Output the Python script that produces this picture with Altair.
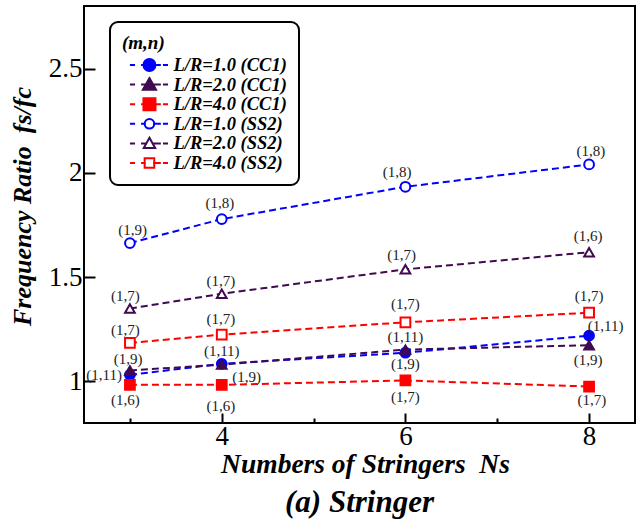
import altair as alt
import pandas as pd

# ---------------- data ----------------
ns = [3, 4, 6, 8]
series_names = ["L/R=1.0 (CC1)", "L/R=2.0 (CC1)", "L/R=4.0 (CC1)",
                "L/R=1.0 (SS2)", "L/R=2.0 (SS2)", "L/R=4.0 (SS2)"]
cc1_lr1 = [1.031, 1.084, 1.137, 1.219]
cc1_lr2 = [1.052, 1.080, 1.152, 1.173]
cc1_lr4 = [0.983, 0.983, 1.004, 0.975]
ss2_lr1 = [1.663, 1.778, 1.933, 2.040]
ss2_lr2 = [1.349, 1.420, 1.537, 1.619]
ss2_lr4 = [1.184, 1.224, 1.283, 1.329]
series_values = [cc1_lr1, cc1_lr2, cc1_lr4, ss2_lr1, ss2_lr2, ss2_lr4]

# mode-number annotations (m,n), placed in data coordinates
label_text = ["(1,9)", "(1,7)", "(1,7)", "(1,9)", "(1,11)", "(1,6)",
              "(1,8)", "(1,7)", "(1,7)", "(1,11)", "(1,9)", "(1,6)",
              "(1,8)", "(1,7)", "(1,7)", "(1,11)", "(1,9)", "(1,7)",
              "(1,8)", "(1,6)", "(1,7)", "(1,11)", "(1,9)", "(1,7)"]
label_x = [3.03, 2.95, 2.95, 2.98, 2.72, 2.95,
           3.98, 3.99, 3.99, 4.0, 4.27, 3.99,
           5.91, 5.96, 6.0, 6.0, 6.0, 6.0,
           8.02, 7.99, 8.0, 8.18, 7.99, 8.03]
label_y = [1.727, 1.409, 1.248, 1.108, 1.031, 0.911,
           1.855, 1.481, 1.301, 1.147, 1.022, 0.883,
           2.005, 1.605, 1.369, 1.214, 1.084, 0.925,
           2.106, 1.698, 1.407, 1.267, 1.104, 0.911]

x_major = [4, 6, 8]
x_minor = [3, 5, 7]
y_ticks = [1, 1.5, 2, 2.5]

# ---------------- styles ----------------
BLUE, PURPLE, RED = "#0000FF", "#400A50", "#FF0000"
series_colors = [BLUE, PURPLE, RED, BLUE, PURPLE, RED]
series_fills = [BLUE, PURPLE, RED, "#FFFFFF", "#FFFFFF", "#FFFFFF"]
chart_shapes = ["circle", "triangle-up", "square", "circle", "triangle-up", "square"]

dash = "M-1.05,0H-0.2M0.8,0H1.6M2.8,0H4.1M4.45,0H5.3"
c = 2.2
circ = f"M{c-1},0A1,1 0 1,1 {c+1},0A1,1 0 1,1 {c-1},0Z"
circ_o = f"M{c-0.8},0A0.8,0.8 0 1,1 {c+0.8},0A0.8,0.8 0 1,1 {c-0.8},0Z"
tri = f"M{c},-1.1L{c+1.1},0.85L{c-1.1},0.85Z"
tri_o = f"M{c},-0.95L{c+0.95},0.75L{c-0.95},0.75Z"
sq = f"M{c-1},-1H{c+1}V1H{c-1}Z"
sq_o = f"M{c-0.8},-0.8H{c+0.8}V0.8H{c-0.8}Z"
legend_paths = [circ + dash, tri + dash, sq + dash, circ_o + dash, tri_o + dash, sq_o + dash]

rows = []
for name, vals in zip(series_names, series_values):
    for n, v in zip(ns, vals):
        rows.append({"ns": n, "ratio": v, "series": name})
df = pd.DataFrame(rows)
labels_df = pd.DataFrame({"lx": label_x, "ly": label_y, "lab": label_text})

FONT = "Liberation Serif, Times New Roman, Tinos, DejaVu Serif, serif"
W, H = 551, 417
xscale = alt.Scale(domain=[2.5, 8.5], nice=False, zero=False)
yscale = alt.Scale(domain=[0.8, 2.8], nice=False, zero=False)

# bottom axis: labels + title only
x_axis = alt.Axis(values=x_major, title="Numbers of Stringers\u00a0\u00a0Ns",
                  titleFont=FONT, titleFontSize=27.5, titleFontStyle="italic",
                  titleFontWeight="bold", titleColor="black",
                  titleX=281, titleY=41, titleBaseline="middle", titleAlign="center",
                  labelFont=FONT, labelFontSize=27, labelColor="black",
                  ticks=False, labelPadding=0, domain=False, grid=False, format="d")
# inward ticks: top-oriented axes shifted down onto the bottom edge
x_ticks_major = alt.Axis(orient="top", offset=-H, values=x_major, title=None, labels=False,
                         tickSize=10, tickWidth=2, tickColor="black", domain=False, grid=False)
x_ticks_minor = alt.Axis(orient="top", offset=-H, values=x_minor, title=None, labels=False,
                         tickSize=5, tickWidth=2, tickColor="black", domain=False, grid=False)
y_axis = alt.Axis(values=y_ticks, title="Frequency Ratio\u00a0\u00a0fs/fc",
                  titleFont=FONT, titleFontSize=26, titleFontStyle="italic",
                  titleFontWeight="bold", titleColor="black",
                  titleX=-62, titleY=200, titleBaseline="middle", titleAlign="center",
                  titleAngle=270,
                  labelFont=FONT, labelFontSize=27, labelColor="black",
                  ticks=False, labelPadding=2, domain=False, grid=False, format=".1~f")
y_ticks_axis = alt.Axis(orient="right", offset=-W, values=y_ticks, title=None, labels=False,
                        tickSize=11, tickWidth=2, tickColor="black", domain=False, grid=False)

color_scale = alt.Scale(domain=series_names, range=series_colors)
fill_scale = alt.Scale(domain=series_names, range=series_fills)

lines = alt.Chart(df).mark_line(strokeDash=[7, 4], strokeWidth=2).encode(
    x=alt.X("ns:Q", scale=xscale, axis=x_axis),
    y=alt.Y("ratio:Q", scale=yscale, axis=y_axis),
    color=alt.Color("series:N", scale=color_scale, legend=None),
)

points = alt.Chart(df).mark_point(size=95, strokeWidth=2, opacity=1).encode(
    x=alt.X("ns:Q", scale=xscale, axis=x_ticks_major),
    y=alt.Y("ratio:Q", scale=yscale, axis=y_ticks_axis),
    color=alt.Color("series:N", scale=color_scale, legend=None),
    fill=alt.Fill("series:N", scale=fill_scale, legend=None),
    shape=alt.Shape("series:N", scale=alt.Scale(domain=series_names, range=chart_shapes), legend=None),
)

texts = alt.Chart(labels_df).mark_text(font=FONT, fontSize=15, color="#222222").encode(
    x=alt.X("lx:Q", scale=xscale, axis=x_ticks_minor),
    y=alt.Y("ly:Q", scale=yscale, axis=None),
    text="lab:N",
)

leg = alt.Legend(title="(m,n)", orient="none", legendX=26, legendY=16,
                 titleFont=FONT, titleFontSize=19, titleFontStyle="italic",
                 titleFontWeight="bold", titleColor="black", titlePadding=4,
                 labelFont=FONT, labelFontSize=18.5, labelFontStyle="italic",
                 labelFontWeight="bold", labelColor="black", labelOffset=28,
                 symbolSize=144, symbolStrokeWidth=2, symbolOffset=5,
                 rowPadding=0.6, clipHeight=16, padding=12, fillColor="white",
                 strokeColor="black", cornerRadius=8)

legend_layer = alt.Chart(df).transform_filter("false").mark_point(
    size=144, strokeWidth=2, opacity=1).encode(
    x=alt.X("ns:Q", scale=xscale, axis=None),
    y=alt.Y("ratio:Q", scale=yscale, axis=None),
    color=alt.Color("series:N", scale=color_scale, legend=leg),
    fill=alt.Fill("series:N", scale=fill_scale, legend=leg),
    shape=alt.Shape("series:N", scale=alt.Scale(domain=series_names, range=legend_paths), legend=leg),
)

chart = alt.layer(lines, points, texts, legend_layer).resolve_scale(
    color="independent", fill="independent", shape="independent"
).resolve_axis(x="independent", y="independent").properties(
    width=W, height=H,
    autosize=alt.AutoSizeParams(type="none"),
    padding={"left": 84, "top": 6, "right": 1, "bottom": 98},
    title=alt.TitleParams("(a) Stringer", orient="bottom", anchor="middle",
                          font=FONT, fontSize=31, fontStyle="italic",
                          fontWeight="bold", color="black", offset=10),
).configure_view(stroke="black", strokeWidth=2).configure_legend(
    strokeWidth=2
)

chart.save("out.html", embed_options={"renderer": "svg", "actions": False})
